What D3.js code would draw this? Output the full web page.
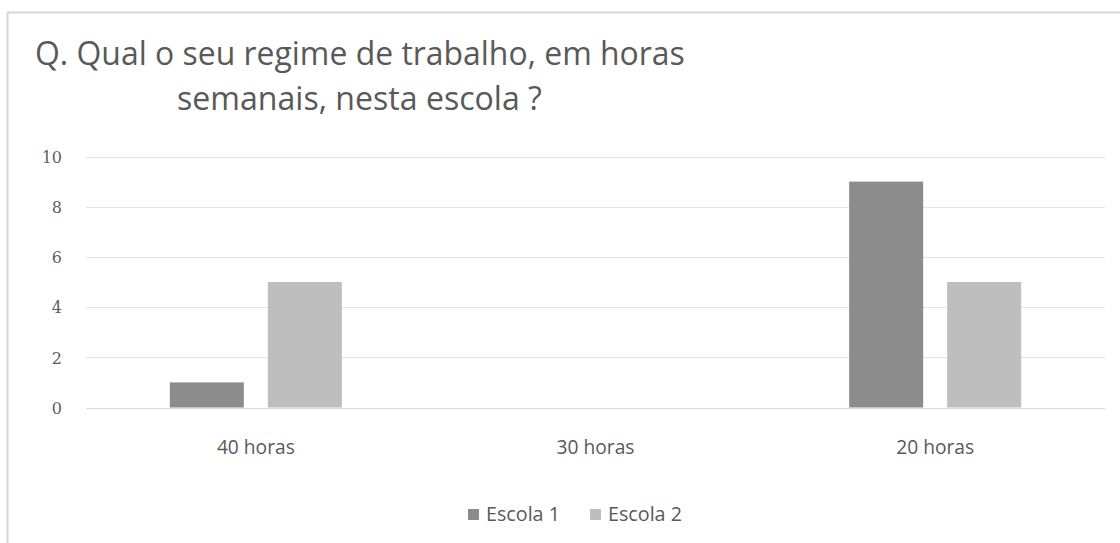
<!DOCTYPE html>
<html>
<head>
<meta charset="utf-8">
<script src="https://cdn.jsdelivr.net/npm/d3@7"></script>
<style>
  html, body { margin: 0; padding: 0; background: #ffffff; }
  svg { display: block; }
</style>
</head>
<body>
<svg id="chart" width="1120" height="543"></svg>
<script>
// Chart data
const categories = ["40 horas", "30 horas", "20 horas"];
const seriesNames = ["Escola 1", "Escola 2"];
const escola1 = [1, 0, 9];
const escola2 = [5, 0, 5];
const yTicks = [0, 2, 4, 6, 8, 10];
const titleLines = ["Q. Qual o seu regime de trabalho, em horas", "semanais, nesta escola ?"];

const seriesColors = ["#8c8c8c", "#bebebe"];
const textColor = "#595959";

const W = 1120, H = 543;
const svg = d3.select("#chart");

// Frame of the chart area
svg.append("line").attr("x1", 7).attr("x2", W).attr("y1", 12.5).attr("y2", 12.5)
  .attr("stroke", "#d6d6d6").attr("stroke-width", 2);
svg.append("line").attr("x1", 7.5).attr("x2", 7.5).attr("y1", 12).attr("y2", H)
  .attr("stroke", "#d6d6d6").attr("stroke-width", 2);

// Shrink or grow a text's font-size so that it spans the given width
function fitWidth(sel, target) {
  const node = sel.node();
  const fs = parseFloat(sel.attr("font-size"));
  const w = node.getComputedTextLength();
  if (w > 0) sel.attr("font-size", (fs * target / w).toFixed(2));
}

// Title
const t1 = svg.append("text").attr("x", 35).attr("y", 65)
  .attr("font-family", "'Open Sans', 'Noto Sans', sans-serif").attr("font-size", 28)
  .attr("fill", textColor).text(titleLines[0]);
fitWidth(t1, 650);
const t2 = svg.append("text").attr("x", 177).attr("y", 110)
  .attr("font-family", "'Open Sans', 'Noto Sans', sans-serif").attr("font-size", 28)
  .attr("fill", textColor).text(titleLines[1]);
fitWidth(t2, 365);

// Scales
const plot = { left: 86, right: 1105, top: 156.5, bottom: 407.5 };
const x0 = d3.scaleBand().domain(categories).range([plot.left, plot.right]).padding(0);
const groupWidth = 172;
const x1 = d3.scaleBand().domain(seriesNames)
  .range([(x0.step() - groupWidth) / 2, (x0.step() + groupWidth) / 2])
  .paddingInner(24 / 98).paddingOuter(0);
const y = d3.scaleLinear().domain([0, 10]).range([plot.bottom, plot.top]);

// Gridlines
svg.append("g").selectAll("line").data(yTicks).join("line")
  .attr("x1", plot.left).attr("x2", plot.right)
  .attr("y1", d => Math.round(y(d)) + 0.5).attr("y2", d => Math.round(y(d)) + 0.5)
  .attr("stroke", d => d === 0 ? "#d9d9d9" : "#e3e3e3").attr("stroke-width", 1.2);

// Y axis labels
const yAxis = svg.append("g").attr("transform", `translate(${plot.left - 24},0)`)
  .call(d3.axisLeft(y).tickValues(yTicks).tickSize(0).tickPadding(0).tickFormat(d3.format("d")));
yAxis.select(".domain").remove();
yAxis.selectAll("text")
  .attr("font-family", "'DejaVu Serif', 'Liberation Serif', serif")
  .attr("font-size", 16).attr("font-weight", "normal").attr("fill", "#5e5e5e")
  .attr("dy", "0.36em");

// Bars
const rows = categories.map((c, i) => ({ cat: c, values: [escola1[i], escola2[i]] }));
const groups = svg.append("g").selectAll("g").data(rows).join("g")
  .attr("transform", d => `translate(${x0(d.cat)},0)`);
groups.selectAll("rect")
  .data(d => d.values.map((v, j) => ({ name: seriesNames[j], value: v, j })))
  .join("rect")
  .attr("x", d => x1(d.name))
  .attr("width", x1.bandwidth())
  .attr("y", d => y(d.value))
  .attr("height", d => y(0) - y(d.value))
  .attr("fill", d => seriesColors[d.j]);

// X axis labels
const xAxis = svg.append("g").attr("transform", `translate(0,${plot.bottom + 33})`)
  .call(d3.axisBottom(x0).tickSize(0).tickPadding(0));
xAxis.select(".domain").remove();
xAxis.selectAll("text")
  .attr("font-family", "'Open Sans', 'Noto Sans', sans-serif")
  .attr("font-size", 15).attr("fill", textColor)
  .attr("dy", "0.71em")
  .each(function () { fitWidth(d3.select(this), 78); });

// Legend
const legend = svg.append("g");
const legendX = [468, 590];
seriesNames.forEach((name, i) => {
  legend.append("rect").attr("x", legendX[i]).attr("y", 509).attr("width", 11).attr("height", 11)
    .attr("fill", seriesColors[i]);
  const lt = legend.append("text").attr("x", legendX[i] + 18).attr("y", 521)
    .attr("font-family", "'Open Sans', 'Noto Sans', sans-serif").attr("font-size", 15)
    .attr("fill", textColor).text(name);
  fitWidth(lt, 74);
});
</script>
</body>
</html>
